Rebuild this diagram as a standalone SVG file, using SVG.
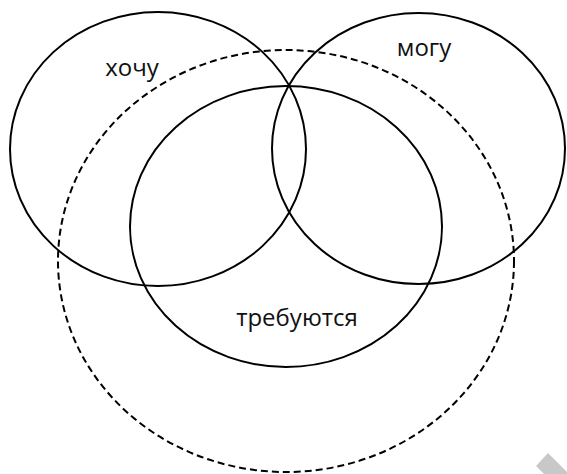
<svg xmlns="http://www.w3.org/2000/svg" width="567" height="474" viewBox="0 0 567 474">
  <style>
    .c { fill: none; stroke: #000; stroke-width: 2; }
    .d { fill: none; stroke: #000; stroke-width: 2; stroke-dasharray: 7 4; }
    .t { font-family: "Open Sans", "Liberation Sans", sans-serif; font-size: 24px; fill: #111; text-anchor: middle; }
  </style>
  <rect width="567" height="474" fill="#fff"/>
  <g id="dashed">
    <ellipse class="d" cx="286" cy="261" rx="228" ry="211"/>
  </g>
  <g id="hochu">
    <ellipse class="c" cx="158" cy="149" rx="148" ry="137"/>
    <text class="t" x="132" y="76">хочу</text>
  </g>
  <g id="mogu">
    <ellipse class="c" cx="418.5" cy="148.5" rx="146.5" ry="135.5"/>
    <text class="t" x="424" y="56">могу</text>
  </g>
  <g id="trebuyutsya">
    <ellipse class="c" cx="286" cy="226.5" rx="156" ry="140.5"/>
    <text class="t" x="297" y="326">требуются</text>
  </g>
  <polygon points="548,453 567,472 567,474 544,474 536,466" fill="#c8c8c8"/>
</svg>
